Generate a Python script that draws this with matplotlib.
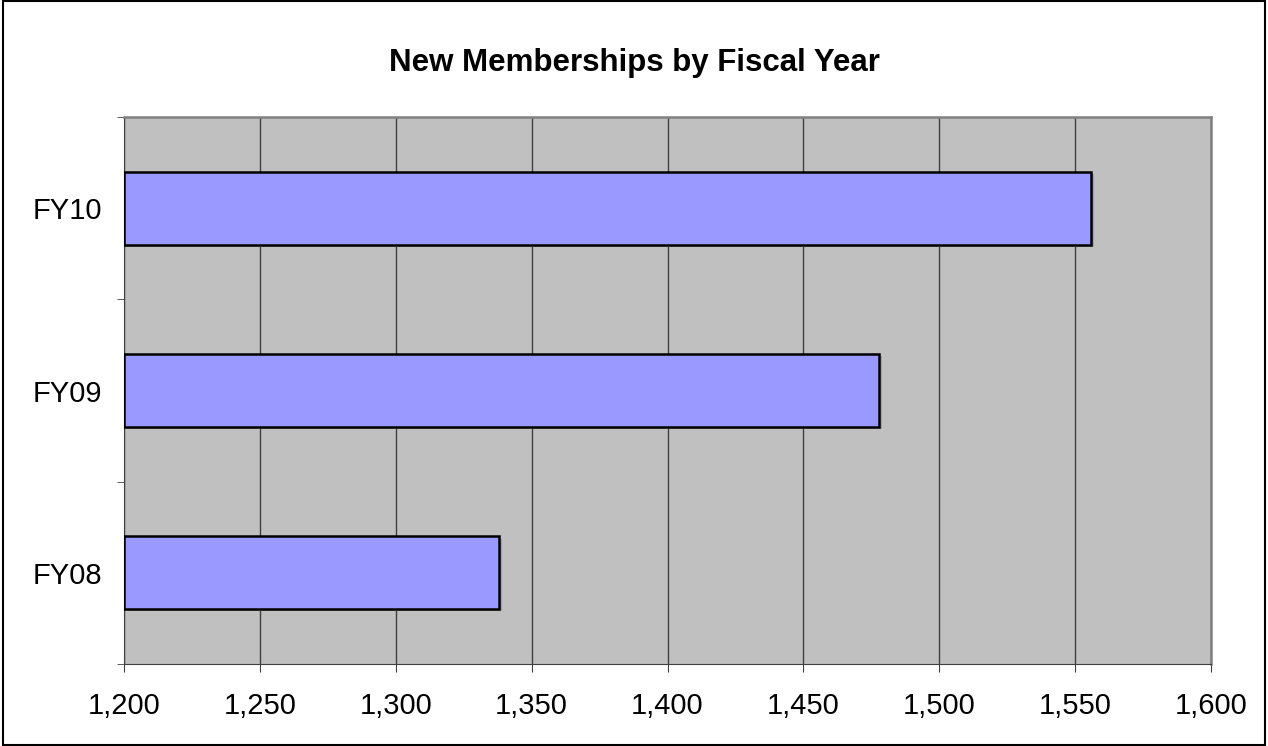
import matplotlib.pyplot as plt
from matplotlib.ticker import FuncFormatter, FixedLocator

plt.rcParams['font.family'] = ['Liberation Sans', 'DejaVu Sans']

# data
years = ["FY08", "FY09", "FY10"]
members = [1338, 1478, 1556]

fig = plt.figure(figsize=(12.68, 7.46), dpi=100)
ax = fig.add_axes([124/1268, 1 - 664/746, (1211-124)/1268, (664-117)/746])

pos = list(range(len(years)))
# faint drop shadow, then the bars
ax.barh([p - 0.012 for p in pos], [m - 1200 for m in members], left=1201, height=0.4,
        color="#A0A0A0", linewidth=0, zorder=2)
ax.barh(pos, [m - 1200 for m in members], left=1200, height=0.4,
        color="#9999FF", edgecolor="black", linewidth=1.8, zorder=3)

ax.set_facecolor("#C0C0C0")
ax.set_xlim(1200, 1600)
ax.set_ylim(-0.5, 2.5)
ax.set_xticks(range(1200, 1601, 50))
ax.xaxis.set_major_formatter(FuncFormatter(lambda v, p: f"{int(v):,}"))
ax.grid(axis="x", color="#404040", linewidth=1, zorder=1)

ax.set_yticks(pos)
ax.set_yticklabels(years)
ax.yaxis.set_minor_locator(FixedLocator([-0.5, 0.5, 1.5, 2.5]))
ax.tick_params(axis="y", which="major", length=0, pad=16, labelsize=21)
ax.tick_params(axis="y", which="minor", length=5, direction="out", color="#404040")
ax.tick_params(axis="x", length=6, direction="out", pad=14, labelsize=21, color="#404040")

for s in ["left", "bottom"]:
    ax.spines[s].set_color("#404040")
for s in ["top", "right"]:
    ax.spines[s].set_color("#808080")
    ax.spines[s].set_linewidth(1.8)

fig.text(0.5, 1 - 71/746, "New Memberships by Fiscal Year", ha="center", va="baseline",
         fontsize=22.5, fontweight="bold")

# outer chart border
fig.patches.append(plt.Rectangle((0.002, 0.002), 0.996, 0.996, transform=fig.transFigure,
                                 fill=False, edgecolor="black", linewidth=1.5))

fig.savefig("out.png", dpi=100)
